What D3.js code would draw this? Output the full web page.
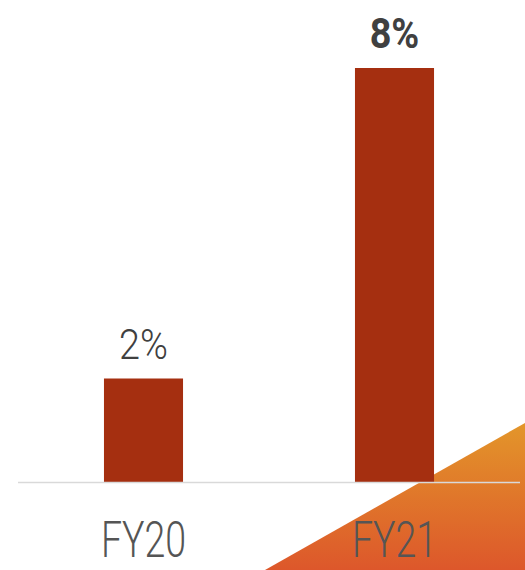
<!DOCTYPE html>
<html>
<head>
<meta charset="utf-8">
<script src="https://cdn.jsdelivr.net/npm/d3@7"></script>
<style>
  body { margin: 0; background: #fff; }
  svg { display: block; }
</style>
</head>
<body>
<script>
// chart data
var categories = ["FY20", "FY21"];
var values = [2, 8];
var valueLabels = ["2%", "8%"];
var boldLabel = [false, true];

var svgWidth = 525;
var svgHeight = 570;
var baseY = 482;

var svg = d3.select("body")
  .append("svg")
  .attr("width", svgWidth)
  .attr("height", svgHeight);

// gradient for the corner decoration
var grad = svg.append("defs").append("linearGradient")
  .attr("id", "corner")
  .attr("x1", 0).attr("y1", 0).attr("x2", 0).attr("y2", 1);
grad.append("stop").attr("offset", "0%").attr("stop-color", "#e3962a");
grad.append("stop").attr("offset", "100%").attr("stop-color", "#dd572b");

svg.append("path")
  .attr("d", "M265,570 L525,423 L525,570 Z")
  .attr("fill", "url(#corner)");

var x = d3.scaleBand()
  .domain(categories)
  .range([18, 520])
  .paddingInner(0.685)
  .paddingOuter(0.3425);

var y = d3.scaleLinear()
  .domain([0, 8])
  .range([baseY, 68]);

// bars
svg.selectAll(".bar")
  .data(values)
  .enter()
  .append("rect")
  .attr("class", "bar")
  .attr("x", (d, i) => x(categories[i]))
  .attr("y", d => y(d))
  .attr("width", x.bandwidth())
  .attr("height", d => baseY - y(d))
  .attr("fill", "#a52f10");

// baseline
svg.append("line")
  .attr("x1", 18).attr("x2", 520)
  .attr("y1", baseY + 0.5).attr("y2", baseY + 0.5)
  .attr("stroke", "#d9d9d9")
  .attr("stroke-width", 1.5);

// value labels (slightly narrowed to mimic the condensed face)
svg.selectAll(".val")
  .data(values)
  .enter()
  .append("text")
  .attr("class", "val")
  .attr("transform", (d, i) => `translate(${x(categories[i]) + x.bandwidth() / 2}, ${y(d) - 20}) scale(0.9,1)`)
  .attr("text-anchor", "middle")
  .attr("font-family", "Roboto, sans-serif")
  .attr("font-size", 42)
  .attr("font-weight", (d, i) => boldLabel[i] ? 700 : 300)
  .attr("fill", "#404040")
  .text((d, i) => valueLabels[i]);

// category labels
svg.selectAll(".cat")
  .data(categories)
  .enter()
  .append("text")
  .attr("class", "cat")
  .attr("transform", d => `translate(${x(d) + x.bandwidth() / 2}, 557) scale(0.75,1)`)
  .attr("text-anchor", "middle")
  .attr("font-family", "Roboto, sans-serif")
  .attr("font-weight", 300)
  .attr("font-size", 50)
  .attr("fill", "#555")
  .text(d => d);
</script>
</body>
</html>
